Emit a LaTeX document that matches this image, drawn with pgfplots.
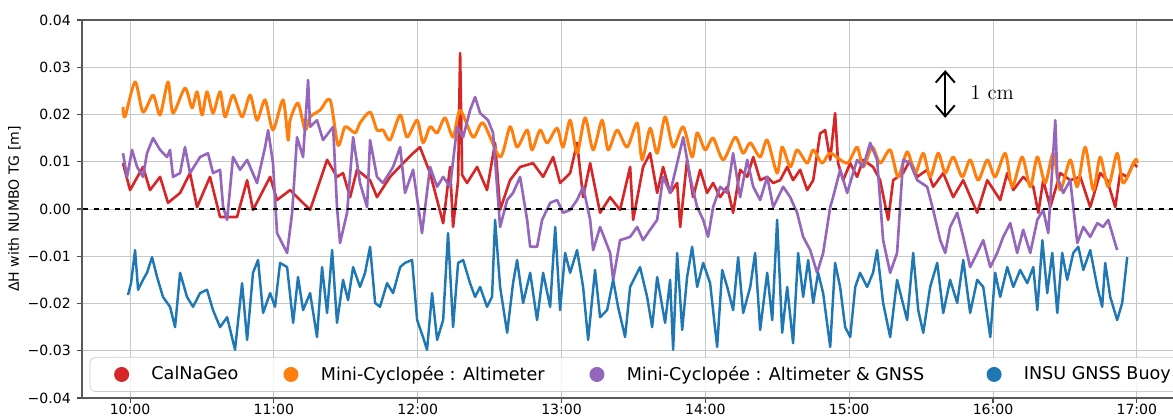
\documentclass[border=0pt]{standalone}
\usepackage{fontspec}
\usepackage{pgfplots}
\pgfplotsset{compat=1.18}
\usetikzlibrary{arrows.meta}
\newfontfamily\dejavu{DejaVu Sans}
\definecolor{cRed}{RGB}{214,39,40}
\definecolor{cOrange}{RGB}{255,127,14}
\definecolor{cPurple}{RGB}{148,103,189}
\definecolor{cBlue}{RGB}{31,119,180}

\begin{document}
\begin{tikzpicture}
\begin{axis}[
  at={(0,0)}, anchor=south west,
  scale only axis, width=21.96cm, height=7.56cm,
  xmin=9.666, xmax=17.3, ymin=-0.04, ymax=0.04,
  scaled y ticks=false,
  xtick={10,11,12,13,14,15,16,17},
  xticklabels={10:00,11:00,12:00,13:00,14:00,15:00,16:00,17:00},
  ytick={-0.04,-0.03,-0.02,-0.01,0,0.01,0.02,0.03,0.04},
  yticklabels={−0.04,−0.03,−0.02,−0.01,0.00,0.01,0.02,0.03,0.04},
  xticklabel style={yshift=0.1cm},
  grid=major, major grid style={black!22, line width=0.5pt},
  tick align=outside, tick pos=left, major tick length=0.1cm,
  tick style={black!70, line width=0.6pt},
  axis line style={black!65, line width=0.7pt},
  font=\dejavu\fontsize{8}{10}\selectfont,
  ylabel={ΔH with NUMBO TG [m]},
  ylabel style={yshift=-0.1cm},
  legend style={at={(rel axis cs:0.007,0.016)}, anchor=south west,
    legend columns=4, draw=black!20, rounded corners=3pt,
    fill=white, fill opacity=0.8, text opacity=1,
    font=\dejavu\fontsize{10}{12}\selectfont, inner ysep=3pt,
    /tikz/every even column/.append style={column sep=0.45cm}},
  legend cell align=left,
  dot legend/.style={legend image code/.code={\path (0,0) (1.0cm,0); \fill[##1, draw=none, fill opacity=1] (0.5cm,0) circle (0.15cm);}},
]
\addplot[cRed, line width=1.5pt, line join=round, dot legend] coordinates {
(9.951,0.0097) (10.000,0.0040) (10.090,0.0089) (10.139,0.0040) (10.209,0.0068)
(10.264,0.0013) (10.348,0.0034) (10.417,0.0076) (10.466,0.0004) (10.556,0.0068)
(10.626,-0.0017) (10.744,-0.0017) (10.814,0.0061) (10.855,-0.0002) (10.974,0.0068)
(11.022,0.0019) (11.113,0.0040) (11.252,-0.0002) (11.370,0.0104) (11.439,0.0068)
(11.481,0.0076) (11.530,0.0025) (11.578,0.0083) (11.669,0.0061) (11.717,0.0025)
(11.808,0.0068) (11.898,0.0097) (11.968,0.0118) (12.016,0.0131) (12.086,0.0076)
(12.177,-0.0030) (12.225,0.0089) (12.246,-0.0038) (12.281,0.0061) (12.295,0.0330)
(12.309,0.0072) (12.343,0.0055) (12.413,0.0089) (12.482,0.0040) (12.538,0.0140)
(12.573,-0.0002) (12.642,0.0061) (12.712,0.0089) (12.802,0.0097) (12.872,0.0068)
(12.942,0.0110) (12.990,0.0055) (13.060,0.0076) (13.108,0.0140) (13.150,0.0025)
(13.199,0.0097) (13.268,-0.0008) (13.338,0.0025) (13.407,-0.0002) (13.477,0.0089)
(13.498,-0.0023) (13.567,0.0089) (13.616,0.0118) (13.665,0.0034) (13.706,0.0089)
(13.755,0.0034) (13.804,0.0055) (13.825,-0.0038) (13.873,0.0104) (13.915,0.0025)
(13.964,0.0083) (14.012,0.0034) (14.054,0.0055) (14.103,0.0025) (14.152,0.0047)
(14.193,-0.0008) (14.242,0.0083) (14.291,0.0068) (14.333,0.0110) (14.381,0.0061)
(14.430,0.0068) (14.472,0.0055) (14.520,0.0061) (14.569,0.0089) (14.610,0.0061)
(14.659,0.0083) (14.708,0.0040) (14.750,0.0061) (14.798,0.0160) (14.833,0.0167)
(14.868,0.0104) (14.902,0.0203) (14.923,0.0097) (14.958,0.0061) (15.007,0.0097)
(15.055,0.0068) (15.097,0.0104) (15.166,0.0089) (15.215,0.0061) (15.271,-0.0023)
(15.306,0.0061) (15.375,0.0076) (15.424,0.0104) (15.473,0.0068) (15.542,0.0083)
(15.584,0.0047) (15.654,0.0076) (15.723,0.0025) (15.793,0.0061) (15.890,-0.0008)
(15.960,0.0061) (16.050,0.0019) (16.099,0.0076) (16.141,0.0040) (16.210,0.0068)
(16.280,0.0047) (16.315,-0.0008) (16.349,0.0061) (16.398,0.0004) (16.467,0.0076)
(16.537,0.0061) (16.607,0.0068) (16.676,0.0004) (16.745,0.0076) (16.794,0.0061)
(16.850,0.0004) (16.884,0.0076) (16.933,0.0068) (16.975,0.0097) (17.003,0.0089)
};
\addlegendentry{CalNaGeo}
\addplot[cOrange, line width=1.7pt, line join=round, smooth, tension=0.45, dot legend] coordinates {
(9.951,0.0216) (9.965,0.0195) (10.035,0.0269) (10.090,0.0205) (10.160,0.0241)
(10.209,0.0199) (10.264,0.0269) (10.299,0.0203) (10.382,0.0256) (10.431,0.0214)
(10.466,0.0248) (10.501,0.0199) (10.535,0.0248) (10.577,0.0203) (10.626,0.0248)
(10.661,0.0195) (10.716,0.0241) (10.779,0.0195) (10.835,0.0241) (10.883,0.0188)
(10.939,0.0231) (10.994,0.0167) (11.064,0.0231) (11.099,0.0146) (11.113,0.0188)
(11.168,0.0224) (11.217,0.0167) (11.252,0.0195) (11.321,0.0209) (11.391,0.0231)
(11.446,0.0135) (11.495,0.0174) (11.565,0.0161) (11.599,0.0182) (11.669,0.0205)
(11.717,0.0167) (11.759,0.0167) (11.808,0.0146) (11.878,0.0199) (11.926,0.0152)
(11.996,0.0188) (12.037,0.0140) (12.086,0.0174) (12.135,0.0161) (12.190,0.0193)
(12.246,0.0152) (12.295,0.0209) (12.385,0.0152) (12.455,0.0182) (12.573,0.0110)
(12.642,0.0174) (12.691,0.0131) (12.761,0.0167) (12.795,0.0125) (12.851,0.0167)
(12.900,0.0140) (12.969,0.0171) (13.011,0.0131) (13.060,0.0188) (13.108,0.0118)
(13.164,0.0193) (13.220,0.0125) (13.282,0.0188) (13.324,0.0125) (13.386,0.0167)
(13.456,0.0131) (13.526,0.0182) (13.560,0.0104) (13.616,0.0171) (13.665,0.0118)
(13.720,0.0195) (13.776,0.0131) (13.846,0.0174) (13.908,0.0110) (13.943,0.0161)
(13.999,0.0125) (14.054,0.0150) (14.124,0.0104) (14.207,0.0152) (14.263,0.0118)
(14.312,0.0140) (14.381,0.0110) (14.430,0.0146) (14.499,0.0076) (14.534,0.0131)
(14.590,0.0089) (14.638,0.0125) (14.708,0.0097) (14.750,0.0125) (14.812,0.0097)
(14.868,0.0118) (14.986,0.0097) (15.055,0.0131) (15.097,0.0089) (15.160,0.0131)
(15.215,0.0097) (15.285,0.0125) (15.340,0.0068) (15.403,0.0121) (15.459,0.0076)
(15.515,0.0118) (15.563,0.0068) (15.619,0.0118) (15.668,0.0076) (15.723,0.0110)
(15.786,0.0068) (15.841,0.0104) (15.897,0.0061) (15.960,0.0104) (16.015,0.0068)
(16.085,0.0118) (16.134,0.0047) (16.203,0.0110) (16.259,0.0047) (16.308,0.0110)
(16.363,0.0055) (16.419,0.0118) (16.467,0.0040) (16.537,0.0104) (16.586,0.0047)
(16.641,0.0131) (16.697,0.0040) (16.745,0.0110) (16.801,0.0047) (16.863,0.0118)
(16.905,0.0055) (16.989,0.0104) (17.003,0.0097)
};
\addlegendentry{Mini-Cyclopée : Altimeter}
\addplot[cPurple, line width=1.5pt, line join=round, dot legend] coordinates {
(9.951,0.0118) (9.979,0.0068) (10.014,0.0125) (10.049,0.0089) (10.090,0.0068)
(10.118,0.0118) (10.160,0.0150) (10.209,0.0125) (10.257,0.0110) (10.278,0.0125)
(10.299,0.0068) (10.348,0.0076) (10.382,0.0131) (10.417,0.0076) (10.487,0.0110)
(10.542,0.0118) (10.577,0.0076) (10.626,0.0083) (10.647,0.0004) (10.675,-0.0023)
(10.716,0.0110) (10.765,0.0083) (10.814,0.0104) (10.883,0.0055) (10.939,0.0131)
(10.960,0.0167) (10.994,0.0097) (11.022,-0.0051) (11.092,-0.0093) (11.127,-0.0008)
(11.161,0.0152) (11.203,0.0110) (11.238,0.0273) (11.252,0.0174) (11.300,0.0188)
(11.342,0.0146) (11.412,0.0174) (11.439,0.0004) (11.460,-0.0072) (11.509,-0.0008)
(11.551,0.0152) (11.599,0.0055) (11.648,0.0004) (11.669,0.0146) (11.717,0.0068)
(11.759,0.0055) (11.829,0.0089) (11.878,0.0131) (11.912,0.0034) (11.968,0.0083)
(12.030,-0.0051) (12.086,0.0089) (12.135,0.0047) (12.177,0.0068) (12.225,0.0047)
(12.274,0.0174) (12.316,0.0152) (12.364,0.0209) (12.399,0.0237) (12.434,0.0203)
(12.489,0.0188) (12.524,0.0161) (12.573,-0.0038) (12.622,0.0019) (12.663,0.0034)
(12.712,0.0068) (12.761,-0.0023) (12.782,-0.0080) (12.830,-0.0080) (12.865,-0.0023)
(12.921,0.0013) (12.969,0.0019) (13.011,-0.0008) (13.060,-0.0002) (13.108,0.0019)
(13.150,0.0047) (13.199,-0.0023) (13.220,-0.0087) (13.268,-0.0038) (13.338,-0.0093)
(13.359,-0.0150) (13.407,-0.0066) (13.477,-0.0059) (13.526,-0.0038) (13.567,-0.0066)
(13.616,-0.0044) (13.665,-0.0023) (13.706,0.0068) (13.755,0.0034) (13.804,0.0097)
(13.846,0.0152) (13.894,0.0068) (13.943,0.0004) (13.985,-0.0023) (14.019,-0.0059)
(14.054,0.0004) (14.103,0.0047) (14.152,0.0034) (14.193,0.0118) (14.242,0.0025)
(14.291,0.0104) (14.333,0.0047) (14.381,0.0019) (14.430,0.0068) (14.472,0.0004)
(14.541,0.0047) (14.590,0.0025) (14.638,-0.0008) (14.680,-0.0059) (14.729,-0.0087)
(14.777,-0.0135) (14.819,-0.0093) (14.868,0.0004) (14.888,0.0025) (14.937,0.0083)
(14.986,0.0034) (15.055,0.0104) (15.097,0.0089) (15.146,0.0140) (15.194,0.0104)
(15.236,-0.0066) (15.285,-0.0135) (15.333,-0.0093) (15.375,0.0104) (15.424,0.0097)
(15.473,0.0061) (15.542,0.0047) (15.584,-0.0002) (15.633,-0.0066) (15.668,-0.0093)
(15.702,-0.0038) (15.751,-0.0008) (15.793,-0.0059) (15.841,-0.0123) (15.890,-0.0093)
(15.932,-0.0066) (15.981,-0.0123) (16.029,-0.0093) (16.071,-0.0059) (16.120,-0.0030)
(16.168,-0.0093) (16.210,-0.0044) (16.259,-0.0093) (16.308,-0.0023) (16.349,-0.0002)
(16.384,-0.0051) (16.433,0.0188) (16.447,0.0068) (16.488,0.0034) (16.537,0.0061)
(16.586,-0.0072) (16.628,-0.0038) (16.676,-0.0059) (16.725,-0.0030) (16.766,-0.0038)
(16.801,-0.0023) (16.863,-0.0087)
};
\addlegendentry{Mini-Cyclopée : Altimeter \& GNSS\rule{0.35cm}{0pt}}
\addplot[cBlue, line width=1.4pt, line join=round, dot legend] coordinates {
(9.986,-0.0182) (10.007,-0.0157) (10.035,-0.0087) (10.056,-0.0171) (10.090,-0.0150)
(10.118,-0.0135) (10.153,-0.0102) (10.188,-0.0144) (10.229,-0.0186) (10.278,-0.0207)
(10.313,-0.0250) (10.348,-0.0135) (10.396,-0.0186) (10.438,-0.0207) (10.487,-0.0178)
(10.535,-0.0171) (10.577,-0.0214) (10.626,-0.0250) (10.675,-0.0229) (10.730,-0.0298)
(10.779,-0.0157) (10.814,-0.0277) (10.855,-0.0135) (10.890,-0.0108) (10.925,-0.0220)
(10.974,-0.0178) (11.008,-0.0207) (11.043,-0.0114) (11.092,-0.0123) (11.134,-0.0241)
(11.168,-0.0144) (11.203,-0.0214) (11.252,-0.0178) (11.300,-0.0271) (11.335,-0.0123)
(11.370,-0.0220) (11.405,-0.0087) (11.439,-0.0241) (11.481,-0.0150) (11.516,-0.0193)
(11.551,-0.0123) (11.599,-0.0165) (11.634,-0.0135) (11.669,-0.0080) (11.704,-0.0199)
(11.738,-0.0207) (11.787,-0.0157) (11.829,-0.0178) (11.878,-0.0123) (11.912,-0.0114)
(11.961,-0.0108) (11.996,-0.0235) (12.037,-0.0271) (12.065,-0.0298) (12.100,-0.0178)
(12.135,-0.0277) (12.177,-0.0235) (12.211,-0.0051) (12.246,-0.0250) (12.281,-0.0114)
(12.316,-0.0108) (12.364,-0.0157) (12.399,-0.0186) (12.434,-0.0165) (12.482,-0.0207)
(12.517,-0.0186) (12.538,-0.0023) (12.573,-0.0165) (12.622,-0.0262) (12.663,-0.0157)
(12.691,-0.0108) (12.733,-0.0199) (12.782,-0.0135) (12.830,-0.0235) (12.872,-0.0135)
(12.921,-0.0207) (12.956,-0.0038) (12.990,-0.0214) (13.025,-0.0093) (13.060,-0.0135)
(13.108,-0.0087) (13.150,-0.0165) (13.185,-0.0277) (13.233,-0.0129) (13.268,-0.0229)
(13.317,-0.0214) (13.359,-0.0150) (13.393,-0.0207) (13.442,-0.0271) (13.477,-0.0165)
(13.526,-0.0135) (13.546,-0.0123) (13.595,-0.0186) (13.630,-0.0250) (13.665,-0.0144)
(13.720,-0.0241) (13.755,-0.0150) (13.776,-0.0298) (13.804,-0.0093) (13.839,-0.0256)
(13.873,-0.0144) (13.908,-0.0080) (13.943,-0.0165) (13.985,-0.0114) (14.033,-0.0157)
(14.082,-0.0292) (14.117,-0.0129) (14.152,-0.0165) (14.193,-0.0214) (14.228,-0.0102)
(14.263,-0.0220) (14.312,-0.0165) (14.346,-0.0093) (14.381,-0.0256) (14.430,-0.0135)
(14.465,-0.0235) (14.499,-0.0023) (14.534,-0.0262) (14.569,-0.0165) (14.610,-0.0284)
(14.645,-0.0093) (14.680,-0.0186) (14.715,-0.0108) (14.750,-0.0199) (14.784,-0.0135)
(14.819,-0.0178) (14.868,-0.0292) (14.902,-0.0114) (14.937,-0.0165) (14.972,-0.0250)
(15.007,-0.0271) (15.042,-0.0165) (15.076,-0.0135) (15.125,-0.0165) (15.166,-0.0135)
(15.194,-0.0087) (15.236,-0.0199) (15.285,-0.0271) (15.333,-0.0150) (15.368,-0.0193)
(15.403,-0.0235) (15.445,-0.0093) (15.480,-0.0214) (15.515,-0.0262) (15.563,-0.0165)
(15.612,-0.0114) (15.654,-0.0220) (15.702,-0.0150) (15.751,-0.0199) (15.793,-0.0108)
(15.841,-0.0220) (15.890,-0.0150) (15.932,-0.0165) (15.981,-0.0271) (16.015,-0.0135)
(16.050,-0.0186) (16.099,-0.0123) (16.141,-0.0165) (16.189,-0.0129) (16.238,-0.0157)
(16.280,-0.0123) (16.308,-0.0214) (16.343,-0.0066) (16.377,-0.0178) (16.412,-0.0093)
(16.447,-0.0220) (16.481,-0.0093) (16.516,-0.0150) (16.558,-0.0093) (16.593,-0.0080)
(16.628,-0.0129) (16.676,-0.0087) (16.725,-0.0165) (16.759,-0.0207) (16.780,-0.0114)
(16.815,-0.0186) (16.863,-0.0235) (16.898,-0.0199) (16.933,-0.0102)
};
\addlegendentry{INSU GNSS Buoy}
\addplot[black, dashed, line width=0.9pt, forget plot] coordinates {(9.6,0) (17.4,0)};
\draw[{Straight Barb[length=2.2mm,width=3.8mm]}-{Straight Barb[length=2.2mm,width=3.8mm]}, line width=1.1pt]
  (axis cs:15.668,0.0193) -- (axis cs:15.668,0.0294);
\node[anchor=west, font=\rmfamily\fontsize{12}{14}\selectfont, inner sep=0pt] at (axis cs:15.84,0.0247) {1 cm};
\node[anchor=base, font=\rmfamily\fontsize{12}{14}\selectfont] at (rel axis cs:0.472,1) [yshift=0.38cm] {(a)};
\end{axis}
\pgfresetboundingbox
\useasboundingbox (-1.64cm,-0.42cm) rectangle (21.82cm,7.96cm);
\end{tikzpicture}
\end{document}
